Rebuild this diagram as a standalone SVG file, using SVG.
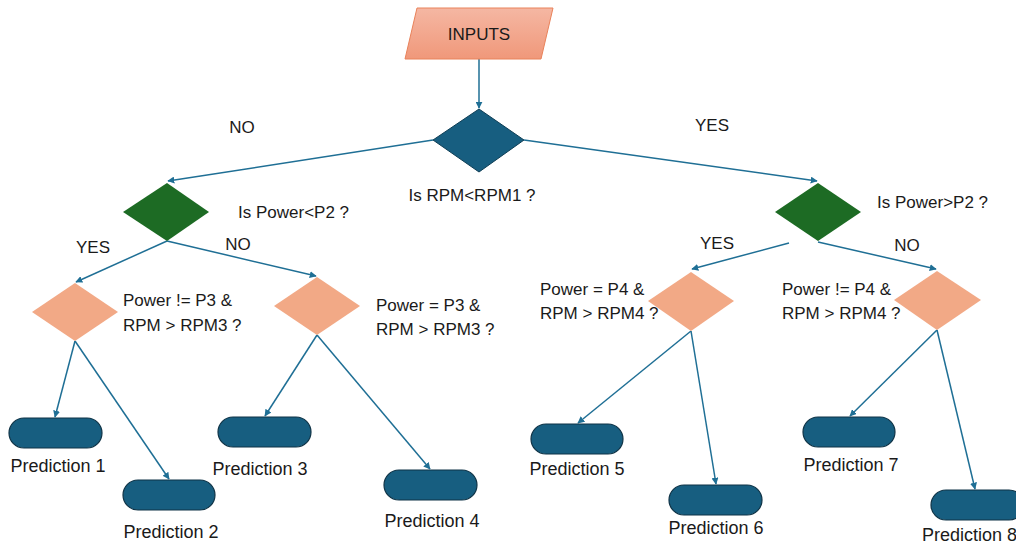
<svg xmlns="http://www.w3.org/2000/svg" width="1016" height="544" viewBox="0 0 1016 544">
  <defs>
    <linearGradient id="inGrad" x1="0" y1="0" x2="0" y2="1">
      <stop offset="0" stop-color="#F5B7A3"/>
      <stop offset="1" stop-color="#F0987A"/>
    </linearGradient>
    <marker id="arr" viewBox="0 0 10 10" refX="9" refY="5" markerWidth="7" markerHeight="7" markerUnits="userSpaceOnUse" orient="auto">
      <path d="M0,0 L10,5 L0,10 z" fill="#1F6F95"/>
    </marker>
  </defs>
  <style>
    .lbl { font-family: "Liberation Sans", Arial, sans-serif; font-size: 17px; fill: #1a1a1a; }
    .pred { font-size: 18px; }
    .mid { text-anchor: middle; }
    .edge { stroke: #1F6F95; stroke-width: 1.5; fill: none; marker-end: url(#arr); }
    .blue { fill: #175E80; stroke: #0F3E55; stroke-width: 1; }
    .green { fill: #1D6B24; }
    .salmon { fill: #F2A986; }
    .pill { fill: #175E80; stroke: #0F3346; stroke-width: 1.2; }
  </style>
  <rect width="1016" height="544" fill="#ffffff"/>

  <g id="connectors">
    <line class="edge" x1="479" y1="59" x2="479" y2="108"/>
    <line class="edge" x1="433" y1="140" x2="168" y2="181"/>
    <line class="edge" x1="524" y1="140" x2="817" y2="181"/>
    <line class="edge" x1="167" y1="241" x2="76" y2="282"/>
    <line class="edge" x1="167" y1="241" x2="316" y2="276"/>
    <line class="edge" x1="789" y1="243" x2="692" y2="269"/>
    <line class="edge" x1="818" y1="242" x2="936" y2="269"/>
    <line class="edge" x1="75" y1="341" x2="55" y2="417"/>
    <line class="edge" x1="75" y1="341" x2="169" y2="479"/>
    <line class="edge" x1="317" y1="335" x2="265" y2="416"/>
    <line class="edge" x1="317" y1="335" x2="430" y2="469"/>
    <line class="edge" x1="691" y1="331" x2="578" y2="423"/>
    <line class="edge" x1="691" y1="331" x2="716" y2="484"/>
    <line class="edge" x1="937" y1="330" x2="850" y2="416"/>
    <line class="edge" x1="937" y1="330" x2="975" y2="489"/>
  </g>

  <g id="inputs">
    <polygon points="417,8 553,8 541,59 405,59" fill="url(#inGrad)" stroke="#E9825A" stroke-width="1"/>
    <text class="lbl mid" x="479" y="40">INPUTS</text>
  </g>

  <g id="root">
    <polygon class="blue" points="479,109 524,140 479,172 433,140"/>
    <text class="lbl mid" x="472" y="201">Is RPM&lt;RPM1 ?</text>
  </g>

  <g id="edge-labels">
    <text class="lbl mid" x="242" y="133">NO</text>
    <text class="lbl mid" x="712" y="131">YES</text>
    <text class="lbl mid" x="93" y="253">YES</text>
    <text class="lbl mid" x="238" y="250">NO</text>
    <text class="lbl mid" x="717" y="249">YES</text>
    <text class="lbl mid" x="907" y="251">NO</text>
  </g>

  <g id="power-low">
    <polygon class="green" points="167,183 209,212 167,241 123,212"/>
    <text class="lbl" x="238" y="218">Is Power&lt;P2 ?</text>
  </g>

  <g id="power-high">
    <polygon class="green" points="818,183 861,212 818,241 775,212"/>
    <text class="lbl" x="877" y="208">Is Power&gt;P2 ?</text>
  </g>

  <g id="cond-1">
    <polygon class="salmon" points="75,283 118,312 75,341 32,312"/>
    <text class="lbl" x="123" y="306">Power != P3 &amp;</text>
    <text class="lbl" x="123" y="331">RPM &gt; RPM3 ?</text>
  </g>

  <g id="cond-2">
    <polygon class="salmon" points="317,277 360,306 317,335 274,306"/>
    <text class="lbl" x="376" y="311">Power = P3 &amp;</text>
    <text class="lbl" x="376" y="335">RPM &gt; RPM3 ?</text>
  </g>

  <g id="cond-3">
    <polygon class="salmon" points="691,272 734,301 691,331 648,301"/>
    <text class="lbl" x="540" y="295">Power = P4 &amp;</text>
    <text class="lbl" x="540" y="319">RPM &gt; RPM4 ?</text>
  </g>

  <g id="cond-4">
    <polygon class="salmon" points="937,271 981,300 937,330 894,300"/>
    <text class="lbl" x="782" y="295">Power != P4 &amp;</text>
    <text class="lbl" x="782" y="319">RPM &gt; RPM4 ?</text>
  </g>

  <g id="prediction-1">
    <rect class="pill" x="9" y="418" width="93" height="30" rx="15"/>
    <text class="lbl pred mid" x="58" y="472">Prediction 1</text>
  </g>
  <g id="prediction-2">
    <rect class="pill" x="123" y="480" width="92" height="30" rx="15"/>
    <text class="lbl pred mid" x="171" y="538">Prediction 2</text>
  </g>
  <g id="prediction-3">
    <rect class="pill" x="218" y="417" width="93" height="30" rx="15"/>
    <text class="lbl pred mid" x="260" y="475">Prediction 3</text>
  </g>
  <g id="prediction-4">
    <rect class="pill" x="384" y="470" width="93" height="30" rx="15"/>
    <text class="lbl pred mid" x="432" y="527">Prediction 4</text>
  </g>
  <g id="prediction-5">
    <rect class="pill" x="531" y="424" width="92" height="30" rx="15"/>
    <text class="lbl pred mid" x="577" y="475">Prediction 5</text>
  </g>
  <g id="prediction-6">
    <rect class="pill" x="669" y="485" width="93" height="30" rx="15"/>
    <text class="lbl pred mid" x="716" y="534">Prediction 6</text>
  </g>
  <g id="prediction-7">
    <rect class="pill" x="803" y="417" width="92" height="30" rx="15"/>
    <text class="lbl pred mid" x="851" y="471">Prediction 7</text>
  </g>
  <g id="prediction-8">
    <rect class="pill" x="931" y="490" width="93" height="30" rx="15"/>
    <text class="lbl pred" x="922" y="541">Prediction 8</text>
  </g>
</svg>
